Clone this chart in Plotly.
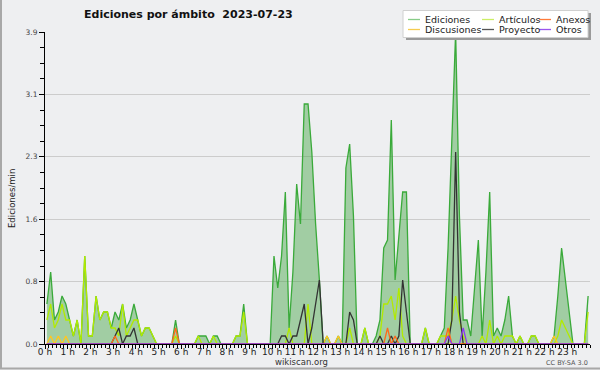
import plotly.graph_objects as go

# ---- data: edits per minute, 10-minute bins (144 per day) ----
ediciones = [
    0.5, 0.9, 0.3, 0.4, 0.6, 0.5,   0.3, 0.1, 0.3, 0.0, 1.1, 0.1,
    0.1, 0.6, 0.3, 0.4, 0.4, 0.2,   0.4, 0.3, 0.5, 0.2, 0.3, 0.5,
    0.3, 0.1, 0.2, 0.2, 0.1, 0.0,   0.0, 0.0, 0.0, 0.0, 0.3, 0.0,
    0.0, 0.0, 0.0, 0.0, 0.1, 0.1,   0.1, 0.0, 0.1, 0.1, 0.0, 0.0,
    0.0, 0.0, 0.1, 0.1, 0.5, 0.0,   0.0, 0.0, 0.0, 0.0, 0.0, 0.0,
    1.1, 0.7, 1.1, 1.9, 0.2, 0.9,   2.0, 1.5, 3.0, 3.0, 2.4, 1.5,
    0.8, 0.0, 0.1, 0.0, 0.0, 0.1,   0.0, 2.2, 2.5, 1.6, 0.0, 0.0,
    0.2, 0.0, 0.0, 0.1, 0.3, 1.2,   1.3, 2.8, 0.8, 1.4, 1.9, 1.9,
    0.0, 0.0, 0.0, 0.0, 0.2, 0.0,   0.0, 0.0, 0.1, 0.2, 1.2, 2.5,
    3.9, 1.6, 0.3, 0.3, 0.1, 0.7,   1.3, 0.1, 0.9, 1.9, 0.1, 0.2,
    0.1, 0.3, 0.6, 0.1, 0.0, 0.1,   0.0, 0.0, 0.1, 0.1, 0.0, 0.0,
    0.0, 0.0, 0.1, 0.6, 1.2, 0.8,   0.4, 0.0, 0.0, 0.0, 0.0, 0.6,
]
articulos = [
    0.3, 0.5, 0.2, 0.3, 0.5, 0.3,   0.3, 0.1, 0.3, 0.0, 1.1, 0.1,
    0.1, 0.6, 0.3, 0.4, 0.4, 0.2,   0.2, 0.1, 0.5, 0.1, 0.2, 0.3,
    0.3, 0.1, 0.2, 0.2, 0.1, 0.0,   0.0, 0.0, 0.0, 0.0, 0.1, 0.0,
    0.0, 0.0, 0.0, 0.0, 0.1, 0.0,   0.0, 0.0, 0.1, 0.0, 0.0, 0.0,
    0.0, 0.0, 0.1, 0.1, 0.4, 0.0,   0.0, 0.0, 0.0, 0.0, 0.0, 0.0,
    0.0, 0.0, 0.0, 0.0, 0.2, 0.0,   0.0, 0.0, 0.0, 0.5, 0.0, 0.0,
    0.0, 0.0, 0.0, 0.0, 0.0, 0.0,   0.0, 0.0, 0.2, 0.0, 0.0, 0.0,
    0.2, 0.0, 0.0, 0.0, 0.1, 0.5,   0.5, 0.6, 0.3, 0.7, 0.1, 0.0,
    0.0, 0.0, 0.0, 0.0, 0.2, 0.0,   0.0, 0.0, 0.1, 0.1, 0.1, 0.3,
    0.6, 0.3, 0.1, 0.0, 0.0, 0.0,   0.0, 0.1, 0.0, 0.3, 0.0, 0.1,
    0.0, 0.1, 0.1, 0.1, 0.0, 0.1,   0.0, 0.0, 0.1, 0.1, 0.0, 0.0,
    0.0, 0.0, 0.0, 0.1, 0.3, 0.2,   0.1, 0.0, 0.0, 0.0, 0.0, 0.4,
]
discusiones = [0.0] * 144
for i in (1, 3, 5, 74, 77, 134):
    discusiones[i] = 0.1

proyecto = [0.0] * 144
for i, v in {18: 0.1, 19: 0.2, 21: 0.1, 22: 0.1, 23: 0.2,
             62: 0.1, 63: 0.1, 65: 0.1, 66: 0.1, 67: 0.3, 68: 0.5,
             70: 0.2, 71: 0.5, 72: 0.8, 80: 0.4, 81: 0.3,
             88: 0.1, 91: 0.1, 93: 0.1, 94: 0.8, 95: 0.4,
             107: 0.3, 108: 2.4, 109: 0.4}.items():
    proyecto[i] = v

anexos = [0.0] * 144
for i, v in {18: 0.1, 34: 0.2, 90: 0.2, 92: 0.1, 106: 0.2}.items():
    anexos[i] = v

otros = [0.0] * 144
for i, v in {106: 0.1, 110: 0.2}.items():
    otros[i] = v

hour_ticks = list(range(24))
hour_labels = [f"{h} h" for h in hour_ticks]
y_ticks = [0, 0.78, 1.56, 2.34, 3.12, 3.9]
y_labels = ["0.0", "0.8", "1.6", "2.3", "3.1", "3.9"]

# bin centres in hours
t = [(i + 0.5) / 6 for i in range(144)]

series = [
    ("Ediciones", ediciones, "#3aaa3a"),
    ("Artículos", articulos, "#b2ea00"),
    ("Discusiones", discusiones, "#ffc61f"),
    ("Proyecto", proyecto, "#333333"),
    ("Anexos", anexos, "#ff6a1a"),
    ("Otros", otros, "#8a3cf0"),
]

fig = go.Figure()
for k, (name, vals, col) in enumerate(series):
    fig.add_trace(go.Scatter(
        x=t, y=vals, mode="lines", name=name,
        line=dict(color=col, width=1.3),
        fill="tozeroy" if k == 0 else None,
        fillcolor="rgba(60,160,60,0.43)" if k == 0 else None,
        showlegend=False, hoverinfo="skip"))

W, H = 600, 370
L, R, T, B = 45, 10, 32, 26
pw, ph = W - L - R, H - T - B


def px(x):
    return (x - L) / pw


def py(y):
    return (H - B - y) / ph


shapes = []
annotations = []

# outer frame (left & bottom)
shapes.append(dict(type="line", xref="paper", yref="paper", x0=px(1), x1=px(1), y0=py(0), y1=py(369),
                   line=dict(color="#a8a8a8", width=2)))
shapes.append(dict(type="line", xref="paper", yref="paper", x0=px(0), x1=px(600), y0=py(368.5), y1=py(368.5),
                   line=dict(color="#a8a8a8", width=2)))

# legend box with shadow
shapes.append(dict(type="rect", xref="paper", yref="paper", x0=px(406), x1=px(591), y0=py(40), y1=py(13),
                   fillcolor="#9a9a9a", line=dict(width=0)))
shapes.append(dict(type="rect", xref="paper", yref="paper", x0=px(403), x1=px(588), y0=py(37.5), y1=py(10.5),
                   fillcolor="#ffffff", line=dict(color="#d0d0d0", width=1)))
leg_pos = [(408, 19.5), (482, 19.5), (539, 19.5), (408, 29.5), (482, 29.5), (539, 29.5)]
leg_order = ["Ediciones", "Artículos", "Anexos", "Discusiones", "Proyecto", "Otros"]
legcol = {"Ediciones": "#88cc88", "Artículos": "#ccee66", "Discusiones": "#f5cc50",
          "Proyecto": "#555555", "Anexos": "#ff7a3a", "Otros": "#9a55ee"}
for (lx, ly), name in zip(leg_pos, leg_order):
    shapes.append(dict(type="line", xref="paper", yref="paper", x0=px(lx), x1=px(lx + 12),
                       y0=py(ly), y1=py(ly), line=dict(color=legcol[name], width=1.3)))
    annotations.append(dict(text=name, xref="paper", yref="paper", x=px(lx + 15), y=py(ly),
                            xanchor="left", yanchor="middle", showarrow=False,
                            font=dict(family="DejaVu Sans", size=9.5, color="#222")))

annotations.append(dict(text="Ediciones por ámbito \u00a02023-07-23", xref="paper", yref="paper",
                        x=px(188), y=py(15), xanchor="center", yanchor="middle", showarrow=False,
                        font=dict(family="DejaVu Sans", size=11, color="#111", weight="bold")))
annotations.append(dict(text="Ediciones/min", xref="paper", yref="paper", x=px(12), y=py(199),
                        xanchor="center", yanchor="middle", showarrow=False, textangle=-90,
                        font=dict(family="DejaVu Sans", size=8.5, color="#222")))
annotations.append(dict(text="wikiscan.org", xref="paper", yref="paper", x=px(301), y=py(361.5),
                        xanchor="center", yanchor="middle", showarrow=False,
                        font=dict(family="DejaVu Sans", size=8.5, color="#333")))
annotations.append(dict(text="CC BY-SA 3.0", xref="paper", yref="paper", x=px(590), y=py(362.5),
                        xanchor="right", yanchor="middle", showarrow=False,
                        font=dict(family="DejaVu Sans", size=6.5, color="#555")))

fig.update_layout(
    width=W, height=H, margin=dict(l=L, r=R, t=T, b=B, pad=0),
    paper_bgcolor="#eeeff1", plot_bgcolor="#eeeff1",
    shapes=shapes, annotations=annotations, showlegend=False,
)
fig.update_xaxes(range=[0, 24], tickmode="array", tickvals=hour_ticks, ticktext=hour_labels,
                 showgrid=False, zeroline=False, showline=True, linecolor="black", linewidth=1,
                 ticks="outside", ticklen=4, tickcolor="black", ticklabelstandoff=-5,
                 tickfont=dict(family="DejaVu Sans", size=9, color="#222"),
                 minor=dict(dtick=1 / 6, tick0=0, ticks="outside", ticklen=3, tickcolor="black", showgrid=False),
                 fixedrange=True, automargin=False)
fig.update_yaxes(range=[0, 3.9001], tickmode="array", tickvals=y_ticks, ticktext=y_labels,
                 showgrid=True, gridcolor="#cccccc", gridwidth=1, zeroline=False,
                 showline=True, linecolor="black", linewidth=1,
                 ticks="outside", ticklen=5, tickcolor="black",
                 tickfont=dict(family="DejaVu Sans", size=7.5, color="#444"),
                 minor=dict(tickmode="linear", dtick=0.195, tick0=0, ticks="outside", ticklen=4, tickcolor="black", showgrid=False),
                 fixedrange=True, automargin=False)

fig.write_html("out.html", config={"displayModeBar": False},
               post_script="document.body.style.margin='0';document.body.style.padding='0';")
